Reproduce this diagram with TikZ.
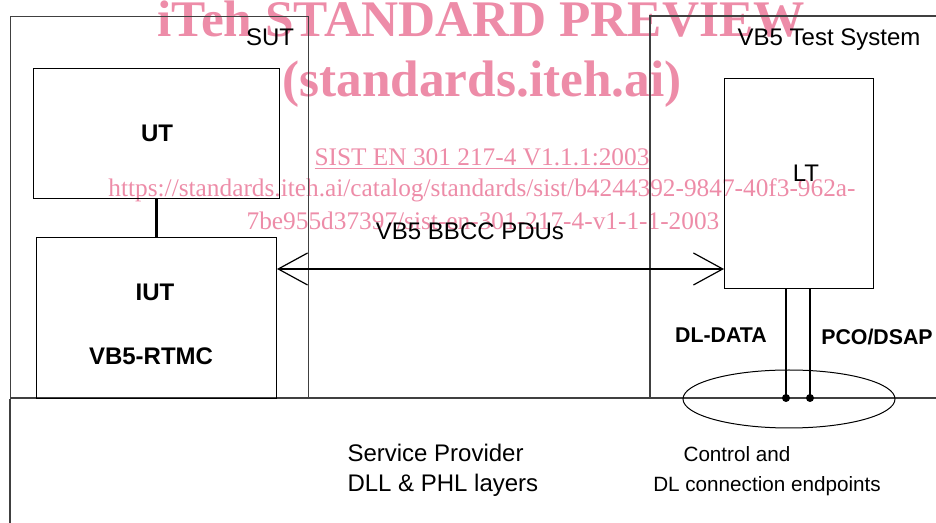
\documentclass[tikz,border=0pt]{standalone}
\usepackage{fontspec}
\setmainfont{Liberation Sans}
\newfontfamily\wmfont{Liberation Serif}
\usetikzlibrary{arrows.meta,shapes.geometric}

\definecolor{wmpink}{RGB}{237,140,168}
\definecolor{framegray}{RGB}{64,64,64}

\tikzset{every picture/.style={line width=0.75pt}}
\tikzset{
  frame/.style={draw=framegray, line width=0.9pt, inner sep=0pt, anchor=north west},
  box/.style={draw, line width=0.75pt, inner sep=0pt, anchor=north west},
  wire/.style={line width=1.6pt},
  barb/.tip={Straight Barb[length=22pt,width=24pt,line width=0.9pt]},
  pdulink/.style={wire, barb-barb},
  lbl/.style={anchor=base, inner sep=0pt, font=\fontsize{18}{21}\selectfont},
  blbl/.style={lbl, font=\fontsize{18}{21}\selectfont\bfseries},
  small/.style={lbl, font=\fontsize{15.5}{19}\selectfont},
  wmark/.style={anchor=base, inner sep=0pt, text=wmpink, font=\wmfont\fontsize{19}{22}\selectfont},
  wmtitle/.style={wmark, font=\wmfont\fontsize{38.5}{42}\selectfont\bfseries}
}

\begin{document}
\begin{tikzpicture}[x=0.75pt,y=0.75pt,yscale=-1,xscale=1]
\useasboundingbox (0,0) rectangle (936,523);

% Watermark text
\node[wmtitle] (wm1) at (481,37) {iTeh STANDARD PREVIEW};
\node[wmtitle] (wm2) at (482,97) {(standards.iteh.ai)};
\node[wmark] (wm3) at (482,166) {\underline{SIST EN 301 217-4 V1.1.1:2003}};
\node[wmark] (wm4) at (482,197) {https://standards.iteh.ai/catalog/standards/sist/b4244392-9847-40f3-962a-};
\node[wmark] (wm5) at (483,230) {7be955d37397/sist-en-301-217-4-v1-1-1-2003};

%Shape: Rectangle (SUT)
\node[frame, minimum width=223.5pt, minimum height=286.5pt] (sut) at (10,16) {};
%Shape: Rectangle (test system, runs off to the right)
\draw[framegray, line width=0.9pt] (936,16) -- (650,16) -- (650,398);
%Straight Lines (service provider)
\draw[framegray, line width=1.3pt] (10,398) -- (936,398);
\draw[framegray, line width=0.9pt] (sut.south west) -- (10,523);

%Shape: Rectangle
\node[box, minimum width=184.5pt, minimum height=97.5pt] (ut) at (33,68) {};
%Shape: Rectangle
\node[box, minimum width=180pt, minimum height=120.75pt] (iut) at (36,237) {};
%Shape: Rectangle
\node[box, minimum width=111.75pt, minimum height=157.5pt] (lt) at (724,78) {};
%Shape: Ellipse
\node[draw, ellipse, inner sep=0pt, minimum width=159pt, minimum height=43.5pt] (ends) at (789,399) {};

\coordinate (pdu) at (470,269);
\coordinate (epA) at (786,398);
\coordinate (epB) at (810,398);

%Straight Lines
\draw[wire] (ut.south) -- (iut.north);
\draw[pdulink] (iut.east |- pdu) -- (lt.west |- pdu);
\draw[wire] (lt.south -| epA) -- (epA);
\draw[wire] (lt.south -| epB) -- (epB);
\fill (epA) circle (3pt);
\fill (epB) circle (3pt);

% Text Node
\node[lbl] (sutlbl) at (270,46) {SUT};
% Text Node
\node[lbl] (tslbl) at (829,46) {VB5 Test System};
% Text Node
\node[blbl] (utlbl) at (157,142) {UT};
% Text Node
\node[blbl] (iutlbl) at (155,301) {IUT};
% Text Node
\node[blbl] (rtmclbl) at (151,365) {VB5-RTMC};
% Text Node
\node[lbl] (ltlbl) at (806,182) {LT};
% Text Node
\node[lbl] (pdulbl) at (470,240) {VB5 BBCC PDUs};
% Text Node
\node[blbl, font=\fontsize{16}{19}\selectfont\bfseries] (dllbl) at (721,343) {DL-DATA};
% Text Node
\node[blbl, font=\fontsize{16}{19}\selectfont\bfseries] (pcolbl) at (877,345) {PCO/DSAP};
% Text Node
\node[small] (ctl1) at (737,462) {Control and};
% Text Node
\node[small] (ctl2) at (767,492) {DL connection endpoints};
% Text Node
\node[lbl, anchor=base west] (sp1) at (347,462) {Service Provider};
% Text Node
\node[lbl, anchor=base west] (sp2) at (347,492) {DLL \& PHL layers};

\end{tikzpicture}
\end{document}
